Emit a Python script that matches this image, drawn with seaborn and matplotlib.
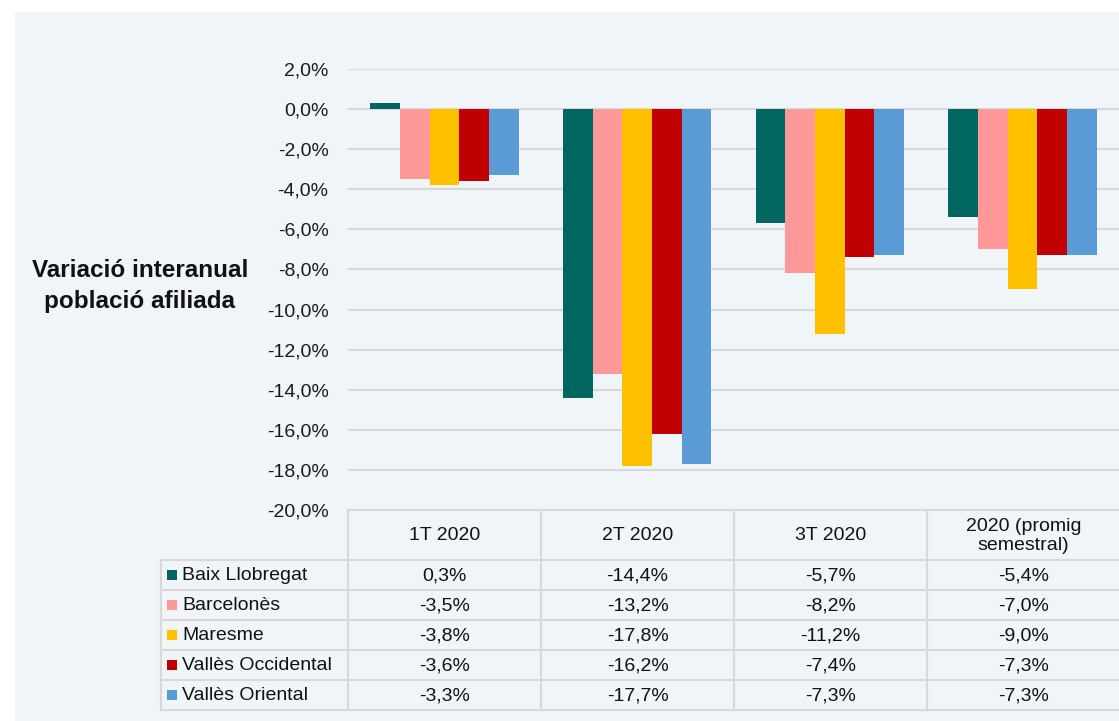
import numpy as np
import pandas as pd
import matplotlib
matplotlib.use("Agg")
import matplotlib.pyplot as plt
import seaborn as sns
from matplotlib.lines import Line2D
from matplotlib.patches import Rectangle

# data
quarters = ["1T 2020", "2T 2020", "3T 2020", "2020 (promig\nsemestral)"]
regions = ["Baix Llobregat", "Barcelonès", "Maresme", "Vallès Occidental", "Vallès Oriental"]
baix_llobregat = [0.3, -14.4, -5.7, -5.4]
barcelones = [-3.5, -13.2, -8.2, -7.0]
maresme = [-3.8, -17.8, -11.2, -9.0]
valles_occidental = [-3.6, -16.2, -7.4, -7.3]
valles_oriental = [-3.3, -17.7, -7.3, -7.3]
colors = ["#006760", "#FF9999", "#FFC000", "#C00000", "#5B9BD5"]

series = [baix_llobregat, barcelones, maresme, valles_occidental, valles_oriental]
df = pd.DataFrame({
    "quarter": np.tile(quarters, len(regions)),
    "region": np.repeat(regions, len(quarters)),
    "value": np.concatenate(series),
})

sns.set_style("white")
plt.rcParams["font.family"] = ["Liberation Sans", "DejaVu Sans"]

W, H = 1119, 721
BG = "#F0F5FA"
GRID = "#D9D9D9"
FS = 14
fig = plt.figure(figsize=(W / 100, H / 100), dpi=100, facecolor="white")

# overlay in pixel coordinates for background, table and label
ov = fig.add_axes([0, 0, 1, 1], zorder=0)
ov.set_xlim(0, W)
ov.set_ylim(H, 0)
ov.axis("off")
ov.add_patch(Rectangle((15, 12), W - 15, H - 12, facecolor=BG, edgecolor="none"))

# bar chart area
x0, x1, ytop, ybot = 348, W, 69, 510
ax = fig.add_axes([x0 / W, 1 - ybot / H, (x1 - x0) / W, (ybot - ytop) / H], zorder=1)
ax.set_facecolor("none")
sns.barplot(data=df, x="quarter", y="value", hue="region", order=quarters,
            hue_order=regions, palette=colors, width=0.77, saturation=1,
            edgecolor="none", legend=False, ax=ax, zorder=3)
ax.set_ylim(-20, 2)
ax.set_yticks(np.arange(-20, 2.1, 2))
ax.yaxis.set_major_formatter(plt.FuncFormatter(lambda v, p: f"{v:.1f}%".replace(".", ",")))
ax.tick_params(axis="y", length=0, pad=14, labelsize=FS, colors="#1a1a1a")
ax.set_xticks([])
ax.set_xlabel("")
ax.set_ylabel("")
ax.grid(axis="y", color=GRID, linewidth=1.5, zorder=0)
ax.set_axisbelow(True)
for s in ax.spines.values():
    s.set_visible(False)

# y label
ov.text(140, 286, "Variació interanual\npoblació afiliada", ha="center", va="center",
        fontsize=17.5, fontweight="bold", color="#111111", linespacing=1.45)

# data table
col_edges = [348, 541, 734, 927]
row_edges = [560, 590, 620, 650, 680, 710]
lw = 1.5
ov.add_line(Line2D([348, W], [510, 510], color=GRID, lw=lw))
for y in row_edges:
    ov.add_line(Line2D([161, W], [y, y], color=GRID, lw=lw))
ov.add_line(Line2D([161, 161], [560, 710], color=GRID, lw=lw))
for x in col_edges:
    ov.add_line(Line2D([x, x], [510, 710], color=GRID, lw=lw))

col_w = col_edges[1] - col_edges[0]
for i, q in enumerate(quarters):
    cx = col_edges[0] + col_w * (i + 0.5)
    ov.text(cx, 536, q, ha="center", va="center", fontsize=FS, color="#111111",
            linespacing=1.2)
    for j, vals in enumerate(series):
        cy = (row_edges[j] + row_edges[j + 1]) / 2
        ov.text(cx, cy + 1, f"{vals[i]:.1f}%".replace(".", ","), ha="center",
                va="center", fontsize=FS, color="#111111")

for j, name in enumerate(regions):
    cy = (row_edges[j] + row_edges[j + 1]) / 2
    ov.add_patch(Rectangle((167, cy - 5), 10, 10, facecolor=colors[j], edgecolor="none"))
    ov.text(182, cy + 1, name, ha="left", va="center", fontsize=FS, color="#111111")

fig.savefig("out.png", dpi=100, facecolor="white")
